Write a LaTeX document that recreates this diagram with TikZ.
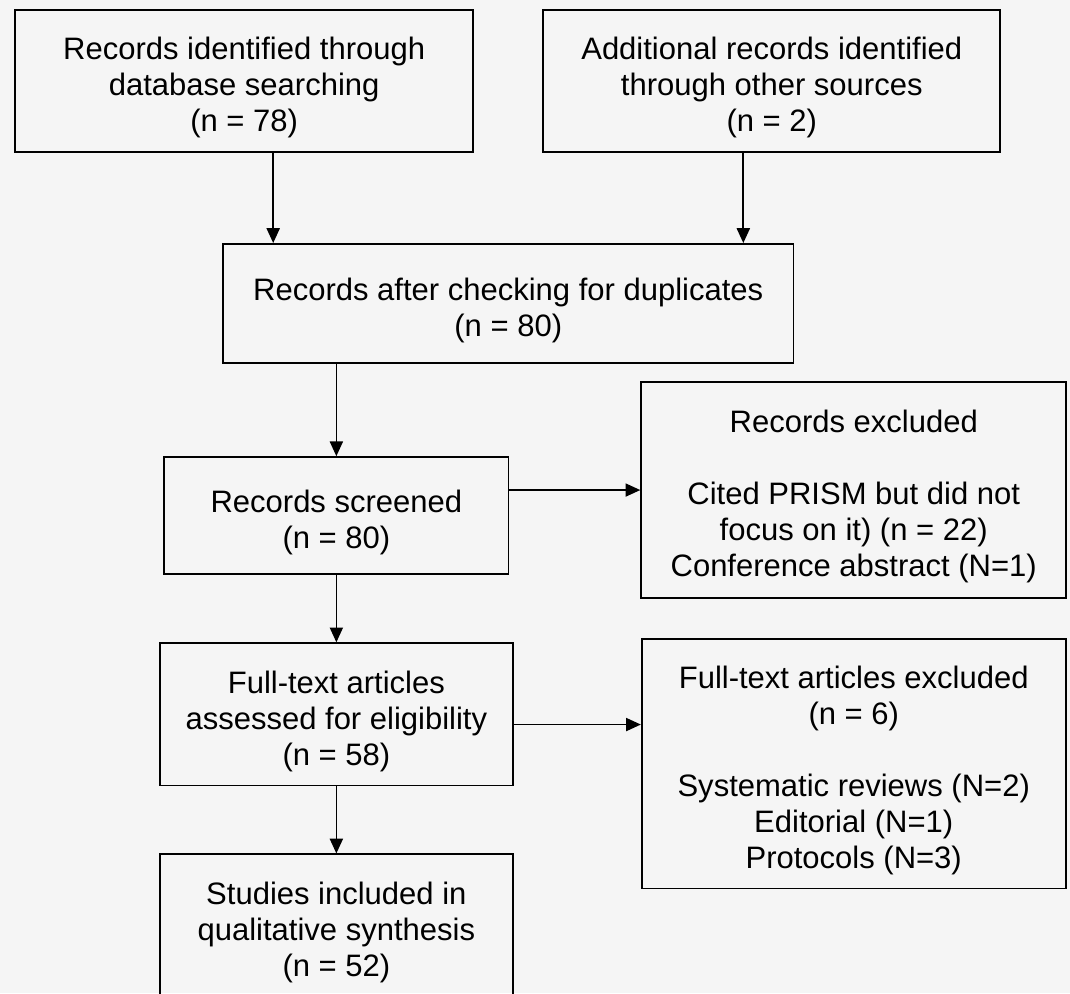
\documentclass[tikz,border=0pt]{standalone}
\usepackage{fontspec}
\setmainfont{Liberation Sans}
\usepackage{tikz}
\usetikzlibrary{positioning,arrows.meta}
\newcommand{\topstrut}{\rule{0pt}{18pt}}
\tikzset{
	block/.style = {draw, rectangle, line width=0.85pt, align=center, inner sep=2pt,
		font=\fontsize{15.5}{18}\selectfont},
	flow/.style = {line width=0.85pt}
}

\begin{document}
\begin{tikzpicture}[auto,>={Triangle[length=0.26cm,width=0.23cm]}]
    \fill [black!4] (0,0) rectangle (18.80,-17.45);
    \useasboundingbox (0,0) rectangle (18.80,-17.45);

    % identification
    \node [block, minimum width=8.05cm, minimum height=2.5cm] (ident) at (4.29,-1.42) {\topstrut Records identified through\\database searching\\(n = 78)};
    \node [block, right of=ident, node distance=9.27cm, minimum width=8.03cm, minimum height=2.5cm] (other) {\topstrut Additional records identified\\through other sources\\(n = 2)};
    \node [block, minimum width=10.02cm, minimum height=2.09cm] (dup) at (8.93,-5.33) {\topstrut Records after checking for duplicates\\(n = 80)};

    % screening
    \node [block, minimum width=6.05cm, minimum height=2.06cm] (screen) at (5.91,-9.06) {\topstrut Records screened\\(n = 80)};
    \node [block, minimum width=7.47cm, minimum height=3.80cm] (exclrec) at (15.00,-8.61) {\topstrut Records excluded\\[18pt]Cited PRISM but did not\\focus on it) (n = 22)\\Conference abstract (N=1)};

    % eligibility
    \node [block, below of=screen, node distance=3.49cm, minimum width=6.20cm, minimum height=2.5cm] (full) {\topstrut Full-text articles\\assessed for eligibility\\(n = 58)};
    \node [block, below of=exclrec, node distance=4.81cm, minimum width=7.45cm, minimum height=4.38cm] (exclfull) {\topstrut Full-text articles excluded\\(n = 6)\\[18pt]Systematic reviews (N=2)\\Editorial (N=1)\\Protocols (N=3)};

    % included
    \node [block, below of=full, node distance=3.71cm, minimum width=6.20cm, minimum height=2.5cm] (incl) {\topstrut Studies included in\\qualitative synthesis\\(n = 52)};

    \draw [flow, ->] ([xshift=0.51cm]ident.south) -- ([xshift=0.51cm]ident.south |- dup.north);
    \draw [flow, ->] ([xshift=-0.50cm]other.south) -- ([xshift=-0.50cm]other.south |- dup.north);
    \draw [flow, ->] (screen.north |- dup.south) -- (screen.north);
    \draw [flow, ->] (screen.east |- exclrec.west) -- (exclrec.west);
    \draw [flow, ->] (screen.south) -- (full.north);
    \draw [flow, ->] ([yshift=-0.18cm]full.east) -- ([yshift=-0.18cm]full.east -| exclfull.west);
    \draw [flow, ->] (full.south) -- (incl.north);
\end{tikzpicture}
\end{document}
